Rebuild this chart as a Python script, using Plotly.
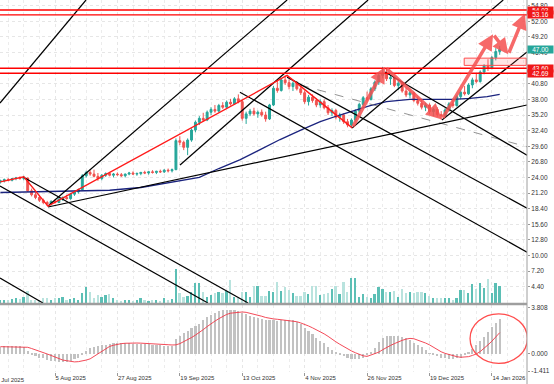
import plotly.graph_objects as go

# ---------------- data ----------------
# bar index (trading days); 14 = 5 Aug 2025
tick_idx = [14, 30, 46, 62, 78, 94, 110, 126]
tick_text = ["5 Aug 2025", "27 Aug 2025", "19 Sep 2025", "13 Oct 2025",
             "4 Nov 2025", "26 Nov 2025", "19 Dec 2025", "14 Jan 2026"]
first_label_idx = -2
first_label = "14 Jul 2025"

open_ = [23.2,23.4,23.6,23.5,23.8,23.9,23.8,23.9,21.6,20.9,20.4,19.9,19.5,19.3,19.7,19.5,20.1,20.4,20.2,21.0,
         21.4,21.8,24.3,24.9,24.6,24.2,23.8,24.4,24.7,24.4,24.6,24.5,24.3,24.6,24.8,24.6,24.7,24.9,24.8,25.0,
         24.9,25.1,25.0,25.3,25.2,25.4,30.6,30.3,29.4,30.7,32.5,33.9,34.6,34.3,35.7,36.2,35.9,36.9,36.6,37.5,
         37.2,38.1,37.6,34.6,35.4,35.9,35.4,35.7,35.2,34.5,37.0,40.0,39.6,41.5,41.0,40.3,40.9,39.9,39.2,37.6,
         38.4,37.8,37.0,37.6,36.5,35.6,36.0,34.8,35.2,34.0,33.4,34.3,35.9,37.1,38.3,38.0,39.9,41.1,42.3,42.6,
         41.7,41.9,40.5,40.9,39.5,38.8,39.2,37.8,37.3,36.6,37.0,35.8,36.2,35.3,35.0,36.1,37.2,36.9,38.5,39.3,
         39.0,40.6,41.5,41.2,42.9,44.0,43.6,45.5,46.6]
high = [23.6,23.8,23.9,23.9,24.1,24.2,24.3,24.0,22.0,21.3,20.8,20.2,19.8,19.9,20.1,20.3,20.6,20.9,21.2,21.6,
        22.0,24.6,25.2,25.3,25.4,24.8,24.6,24.9,25.0,24.8,24.9,24.8,24.7,25.0,25.1,24.9,25.0,25.2,25.1,25.3,
        25.2,25.4,25.5,25.6,25.6,31.0,31.4,30.6,31.0,32.8,34.2,35.0,35.6,36.0,36.6,37.0,37.2,37.5,37.8,38.1,
        38.4,38.9,37.9,35.8,36.3,36.5,36.0,36.2,35.8,37.2,40.4,41.3,41.8,42.3,41.6,41.2,41.3,40.5,39.6,38.8,
        38.9,38.2,38.0,38.0,37.0,36.4,36.3,35.6,35.5,34.5,34.6,36.2,37.4,38.6,39.4,40.2,41.4,42.6,43.8,43.5,
        42.4,42.1,41.3,41.1,40.1,39.6,39.4,38.5,37.9,37.4,37.3,36.5,36.6,35.9,36.4,37.5,38.1,38.8,39.6,40.4,
        40.9,41.9,42.6,43.2,44.3,45.2,45.8,47.2,47.6]
low = [22.9,23.1,23.3,23.3,23.5,23.6,23.5,21.4,20.6,20.1,19.6,19.2,18.9,19.0,19.3,19.4,19.8,20.0,20.0,20.7,
       21.1,21.7,24.0,24.3,24.0,23.4,23.5,24.1,24.2,24.0,24.3,24.1,24.0,24.4,24.5,24.3,24.4,24.6,24.5,24.7,
       24.6,24.8,24.8,24.9,24.9,25.3,29.8,28.9,28.0,30.4,32.1,33.4,34.0,34.1,35.2,35.6,35.7,36.3,36.4,36.9,
       37.0,37.3,34.2,33.6,35.0,35.1,34.7,34.9,34.0,34.3,36.8,39.2,39.4,40.6,39.8,39.5,39.6,38.8,37.2,36.9,
       37.4,36.6,36.5,36.2,35.2,35.0,34.4,34.0,33.6,33.0,32.9,34.0,35.5,36.7,37.6,37.8,39.5,40.6,41.8,41.3,
       40.6,40.2,39.7,39.2,38.4,38.2,37.5,36.9,36.2,35.9,35.4,35.0,34.9,34.4,34.8,35.8,36.5,36.7,38.0,38.7,
       38.8,40.0,40.9,41.0,42.5,43.1,43.4,45.0,46.0]
close = [23.4,23.6,23.5,23.8,23.9,23.8,24.0,21.6,20.9,20.4,19.9,19.5,19.3,19.7,19.5,20.1,20.4,20.2,21.0,21.4,
         21.8,24.3,24.9,24.6,24.2,23.8,24.4,24.7,24.4,24.6,24.5,24.3,24.6,24.8,24.6,24.7,24.9,24.8,25.0,24.9,
         25.1,25.0,25.3,25.2,25.4,30.6,30.3,29.4,30.7,32.5,33.9,34.6,34.3,35.7,36.2,35.9,36.9,36.6,37.5,37.2,
         38.1,37.6,34.6,35.4,35.9,35.4,35.7,35.2,34.5,37.0,40.0,39.6,41.5,41.0,40.3,40.9,39.9,39.2,37.6,38.4,
         37.8,37.0,37.6,36.5,35.6,36.0,34.8,35.2,34.0,33.4,34.3,35.9,37.1,38.3,38.0,39.9,41.1,42.3,42.6,41.7,
         41.9,40.5,40.9,39.5,38.8,39.2,37.8,37.3,36.6,37.0,35.8,36.2,35.3,35.0,36.1,37.2,36.9,38.5,39.3,39.0,
         40.6,41.5,41.2,42.9,44.0,43.6,45.5,46.6,47.0]
volume = [3,2.5,3,3.5,4.7,4,6.3,12.3,3,2.5,3,4.7,4.7,3,4.7,4.7,6.3,3,4,4.7,
          3,9.7,16.3,11.3,5,8,6.3,8,9,4.7,2.5,2,3,2.5,2,3,4.7,2.5,2,3,
          2.5,2,4.7,3,3.5,33.7,9.7,6.3,7,11.3,20.3,19.7,11.3,6.3,8,9.7,11.3,9.7,12.3,23,
          6.3,4.7,11.3,11.3,5.7,17,17,7,7,12.3,11.3,21.3,12,16.3,13,9.7,7,7,11,9,
          17,17,7.7,9,9.7,13.7,17,8.7,21.3,10.7,25.3,25.3,6.3,9,6.3,5,8.7,16.3,14.3,11.3,
          11.3,12.3,6.3,13.7,10.3,11.3,10.3,11,11,9.7,7,4.7,5.3,4.7,4.7,4.7,3,4.7,13,13,
          9.7,19,14.3,20.3,15.3,23.7,9.7,20.3,17]
macd = [0.6,0.62,0.63,0.64,0.64,0.62,0.6,0.25,-0.05,-0.15,-0.3,-0.35,-0.5,-0.55,-0.62,-0.65,-0.65,-0.63,-0.6,-0.45,
        -0.35,-0.1,0.25,0.45,0.6,0.65,0.7,0.72,0.8,0.88,0.9,0.92,0.9,0.88,0.85,0.82,0.8,0.8,0.78,0.75,
        0.72,0.7,0.68,0.65,0.62,1.2,1.45,1.7,1.9,2.1,2.3,2.5,2.8,3.0,3.2,3.4,3.55,3.62,3.65,3.65,
        3.6,3.5,3.35,3.25,3.15,3.05,2.95,2.85,2.8,2.75,2.75,2.72,2.75,2.78,2.78,2.75,2.6,2.45,2.1,1.85,
        1.6,1.35,1.1,0.9,0.6,0.35,0.1,-0.1,-0.2,-0.35,-0.45,-0.45,-0.42,-0.3,-0.12,0.2,0.5,1.0,1.3,1.45,
        1.5,1.5,1.48,1.42,1.3,1.15,0.9,0.75,0.55,0.3,0.05,-0.1,-0.2,-0.3,-0.35,-0.38,-0.38,-0.35,-0.3,-0.1,
        0.15,0.4,0.75,1.1,1.4,1.8,2.2,2.55,2.85]
signal = [0.6,0.6,0.6,0.6,0.6,0.6,0.6,0.55,0.45,0.35,0.25,0.12,0.0,-0.12,-0.25,-0.4,-0.5,-0.55,-0.6,-0.65,
          -0.63,-0.58,-0.5,-0.4,-0.2,0.05,0.25,0.45,0.62,0.72,0.8,0.85,0.88,0.9,0.9,0.9,0.89,0.88,0.87,0.86,
          0.85,0.83,0.8,0.76,0.74,0.75,0.85,1.0,1.15,1.35,1.55,1.75,2.0,2.25,2.5,2.7,2.9,3.1,3.25,3.35,
          3.4,3.45,3.45,3.42,3.35,3.28,3.2,3.1,3.0,2.92,2.88,2.85,2.82,2.78,2.75,2.72,2.65,2.55,2.45,2.3,
          2.15,2.0,1.85,1.65,1.45,1.2,1.0,0.8,0.6,0.4,0.25,0.1,-0.05,-0.15,-0.2,-0.1,0.0,0.15,0.35,0.55,
          0.7,0.85,1.0,1.12,1.22,1.28,1.25,1.15,1.0,0.9,0.75,0.55,0.35,0.18,0.05,-0.05,-0.15,-0.22,-0.27,-0.27,
          -0.22,-0.12,0.0,0.2,0.45,0.75,1.05,1.4,1.75]
ma_idx = [0,10,20,28,36,41,46,51,56,61.5,66.6,71.7,77,82,87,90.4,94.8,99,105,110,116,120.4,124.8,128]
ma_val = [21.3,21.4,21.5,21.7,22.2,22.8,23.3,24.0,25.6,27.2,29.0,30.8,32.5,34.0,35.2,36.0,36.9,37.6,38.0,38.0,38.0,38.2,38.5,38.9]

# hand-drawn trend lines (bar index, price) pairs
black_lines = [
    (-0.1, 37.35, 21.95, 55.83),
    (12.2, 18.88, 73.5, 55.83),
    (46.05, 26.23, 94.26, 55.83),
    (90.15, 32.87, 128.9, 55.83),
    (113.2, 34.3, 135.0, 46.5),
    (12.2, 18.7, 135.0, 37.0),
    (5.8, 24.08, 63.5, 1.48),
    (-0.1, 22.47, 53.2, 1.48),
    (-0.1, 5.96, 10.9, 1.48),
    (73.5, 42.0, 135.0, 18.5),
    (61.4, 39.3, 135.0, 10.6),
    (98.6, 42.9, 135.0, 28.0),
]
gray_lines = [
    (76.8, 40.6, 135.0, 29.5),
]
zigzag_idx = [0, 6, 12.2, 73.5, 90.2]
zigzag_val = [23.2, 24.1, 18.85, 42.3, 32.9]
arrow_idx = [90.2, 98.6, 113.2, 126.3, 130.2, 134.5]
arrow_val = [32.9, 43.8, 34.4, 49.7, 46.1, 53.4]
levels = [54.03, 53.16, 43.60, 42.69]
last_price = 47.00
zone = (118.9, 44.1, 134.8, 45.4)
price_ticks = [4.40, 7.20, 10.00, 12.80, 15.60, 18.40, 21.20, 24.00, 26.80, 29.60, 32.40, 35.20,
               38.00, 40.80, 43.60, 46.40, 49.20, 52.00, 54.80]
macd_ticks = [3.808, 0.0, -1.411]

# ---------------- figure ----------------
X_RANGE = [-0.1, 135.0]
x = list(range(len(close)))
UP, DOWN = "#26a69a", "#ef5350"
vol_colors = ["#5cbfb5" if c >= o else "#b9e3de" for o, c in zip(open_, close)]

# price labels hidden behind the coloured value boxes
covered = levels + [last_price]
price_text = ["" if any(abs(v - c) < 0.5 for c in covered) else f"{v:.2f}" for v in price_ticks]

fig = go.Figure()
fig.add_trace(go.Bar(x=x, y=volume, marker_color=vol_colors, marker_line_width=0,
                     width=0.45, xaxis="x", yaxis="y", showlegend=False))
fig.add_trace(go.Candlestick(x=x, open=open_, high=high, low=low, close=close,
                             increasing=dict(line=dict(color=UP, width=1), fillcolor=UP),
                             decreasing=dict(line=dict(color=DOWN, width=1), fillcolor=DOWN),
                             whiskerwidth=0, xaxis="x", yaxis="y3", showlegend=False))
fig.add_trace(go.Scatter(x=ma_idx, y=ma_val, mode="lines", line=dict(color="#1a237e", width=1.3),
                         xaxis="x", yaxis="y3", showlegend=False))
for (a, b, c, d) in gray_lines:
    fig.add_trace(go.Scatter(x=[a, c], y=[b, d], mode="lines", line=dict(color="#777", width=0.8, dash="dash"),
                             xaxis="x", yaxis="y3", showlegend=False))
for (a, b, c, d) in black_lines:
    fig.add_trace(go.Scatter(x=[a, c], y=[b, d], mode="lines", line=dict(color="#000", width=1.2),
                             xaxis="x", yaxis="y3", showlegend=False))
fig.add_trace(go.Scatter(x=zigzag_idx, y=zigzag_val, mode="lines", line=dict(color="#ff1a1a", width=1.4),
                         xaxis="x", yaxis="y3", showlegend=False))

# MACD
fig.add_trace(go.Bar(x=x, y=macd, marker_color="#c2c2c2", marker_line_width=0, width=0.55,
                     xaxis="x2", yaxis="y2", showlegend=False))
fig.add_trace(go.Scatter(x=x, y=signal, mode="lines", line=dict(color="#f23645", width=0.9),
                         xaxis="x2", yaxis="y2", showlegend=False))

shapes = []
for lv in levels:
    shapes.append(dict(type="line", xref="paper", x0=0, x1=1, yref="y3", y0=lv, y1=lv,
                       line=dict(color="#ff0000", width=1.4)))
shapes.append(dict(type="rect", xref="x", x0=zone[0], x1=zone[2], yref="y3", y0=zone[1], y1=zone[3],
                   fillcolor="rgba(255,80,80,0.15)", line=dict(color="#ff4d4d", width=1)))
shapes.append(dict(type="circle", xref="x2", x0=120.4, x1=135.1, yref="y2", y0=-0.77, y1=3.3,
                   line=dict(color="#ff4d4d", width=1.3)))
shapes.append(dict(type="line", xref="paper", x0=0, x1=1, yref="paper", y0=0.1828, y1=0.1828,
                   line=dict(color="#9e9e9e", width=2.5)))
shapes.append(dict(type="line", xref="paper", x0=1, x1=1, yref="paper", y0=-0.04, y1=1,
                   line=dict(color="#9e9e9e", width=1)))

annotations = []
for i in range(len(arrow_idx) - 1):
    annotations.append(dict(x=arrow_idx[i + 1], y=arrow_val[i + 1], ax=arrow_idx[i], ay=arrow_val[i],
                            xref="x", yref="y3", axref="x", ayref="y3", text="", showarrow=True,
                            arrowhead=2, arrowsize=0.9, arrowwidth=3.5,
                            arrowcolor="rgba(245,80,80,0.85)"))
for lv in levels:
    annotations.append(dict(x=1, xref="paper", y=lv, yref="y3", xanchor="left", text=f"{lv:.2f}",
                            showarrow=False, bgcolor="#f01818", font=dict(color="white", size=6.5),
                            width=25, height=7, borderpad=0))
annotations.append(dict(x=1, xref="paper", y=last_price, yref="y3", xanchor="left", text=f"{last_price:.2f}",
                        showarrow=False, bgcolor="#26a69a", font=dict(color="white", size=6.5),
                        width=25, height=7, borderpad=0))
first_paper = (first_label_idx - X_RANGE[0]) / (X_RANGE[1] - X_RANGE[0])
annotations.append(dict(x=first_paper, xref="paper", y=0, yref="paper", xanchor="left", yanchor="top",
                        text=first_label, showarrow=False, xshift=-2, yshift=-3,
                        font=dict(size=6, color="#333")))

grid = dict(showgrid=True, gridcolor="#e6e6e6", griddash="dot", gridwidth=1, automargin=False)
minor = dict(tickmode="linear", tick0=-2, dtick=4, showgrid=True, gridcolor="#ececec", griddash="dot")
fig.update_layout(
    width=554, height=384, margin=dict(l=0, r=27, t=0, b=12, pad=0),
    paper_bgcolor="white", plot_bgcolor="white",
    font=dict(family="Liberation Sans, Arial", size=6, color="#333"),
    bargap=0, showlegend=False,
    xaxis=dict(domain=[0, 1], range=X_RANGE, anchor="y", showticklabels=False,
               tickvals=tick_idx, ticks="", rangeslider=dict(visible=False), zeroline=False,
               minor=minor, **grid),
    xaxis2=dict(domain=[0, 1], range=X_RANGE, anchor="y2", matches="x",
                tickvals=tick_idx, ticktext=tick_text, ticks="outside", ticklen=3, tickcolor="#999",
                ticklabelposition="outside right", tickfont=dict(size=6, color="#333"), zeroline=False,
                minor=minor, **grid),
    yaxis=dict(domain=[0.1855, 1], range=[0, 303], visible=False, fixedrange=True, automargin=False),
    yaxis3=dict(domain=[0.1855, 1], overlaying="y", side="right", anchor="x",
                range=[1.48, 55.83], tickvals=price_ticks, ticktext=price_text,
                ticks="outside", ticklen=2, tickcolor="#999", tickfont=dict(size=6.5, color="#333"),
                zeroline=False, **grid),
    yaxis2=dict(domain=[0, 0.18], range=[-1.48, 4.02], side="right", anchor="x2",
                tickvals=macd_ticks, ticktext=["3.808", "0.000", "-1.411"], ticks="outside", ticklen=2,
                tickcolor="#999", tickfont=dict(size=6.5, color="#333"), showgrid=False, zeroline=False,
                automargin=False),
    shapes=shapes, annotations=annotations,
)
fig.write_html("out.html", config={"displayModeBar": False},
               post_script="document.body.style.margin='0';document.body.style.overflow='hidden';")
